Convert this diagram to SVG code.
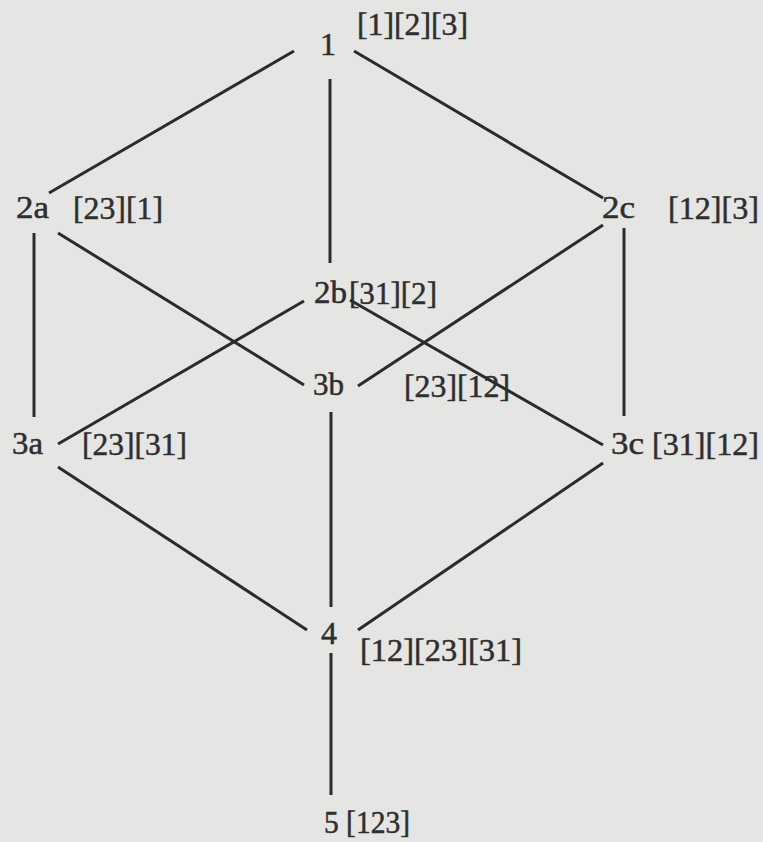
<svg xmlns="http://www.w3.org/2000/svg" width="763" height="842" viewBox="0 0 763 842">
<style>
.bg{fill:#e5e5e3}
.edge{stroke:#2b2b2b;stroke-width:3;stroke-linecap:butt;fill:none}
text{font-family:"Liberation Serif","Times New Roman",serif;fill:#2e2e2e;stroke:#2e2e2e;stroke-width:0.5;font-size:32px}
</style>
<rect class="bg" x="0" y="0" width="763" height="842"/>
<g id="connectors">
<line class="edge" x1="294" y1="51" x2="49" y2="193"/>
<line class="edge" x1="354" y1="51" x2="603" y2="198"/>
<line class="edge" x1="330" y1="79" x2="330" y2="263"/>
<line class="edge" x1="34" y1="233" x2="34" y2="417"/>
<line class="edge" x1="58" y1="233" x2="304" y2="385"/>
<line class="edge" x1="304" y1="301" x2="58" y2="444"/>
<line class="edge" x1="350" y1="300" x2="603" y2="445"/>
<line class="edge" x1="603" y1="225" x2="358" y2="386"/>
<line class="edge" x1="624" y1="228" x2="624" y2="416"/>
<line class="edge" x1="331" y1="412" x2="331" y2="607"/>
<line class="edge" x1="58" y1="467" x2="307" y2="630"/>
<line class="edge" x1="603" y1="463" x2="358" y2="630"/>
<line class="edge" x1="331" y1="653" x2="331" y2="795"/>
</g>
<g id="node-1">
<text x="320" y="55" textLength="16" lengthAdjust="spacingAndGlyphs">1</text>
<text x="357" y="35" textLength="111" lengthAdjust="spacingAndGlyphs">[1][2][3]</text>
</g>
<g id="node-2a">
<text x="16" y="218" textLength="33" lengthAdjust="spacingAndGlyphs">2a</text>
<text x="73" y="219" textLength="90" lengthAdjust="spacingAndGlyphs">[23][1]</text>
</g>
<g id="node-2b">
<text x="314" y="303" textLength="33" lengthAdjust="spacingAndGlyphs">2b</text>
<text x="349" y="304" textLength="88" lengthAdjust="spacingAndGlyphs">[31][2]</text>
</g>
<g id="node-2c">
<text x="602" y="218" textLength="33" lengthAdjust="spacingAndGlyphs">2c</text>
<text x="668" y="219" textLength="91" lengthAdjust="spacingAndGlyphs">[12][3]</text>
</g>
<g id="node-3a">
<text x="12" y="454" textLength="31" lengthAdjust="spacingAndGlyphs">3a</text>
<text x="82" y="455" textLength="105" lengthAdjust="spacingAndGlyphs">[23][31]</text>
</g>
<g id="node-3b">
<text x="313" y="395" textLength="31" lengthAdjust="spacingAndGlyphs">3b</text>
<text x="404" y="397" textLength="106" lengthAdjust="spacingAndGlyphs">[23][12]</text>
</g>
<g id="node-3c">
<text x="611" y="454" textLength="33" lengthAdjust="spacingAndGlyphs">3c</text>
<text x="652" y="455" textLength="107" lengthAdjust="spacingAndGlyphs">[31][12]</text>
</g>
<g id="node-4">
<text x="321" y="644" textLength="16" lengthAdjust="spacingAndGlyphs">4</text>
<text x="360" y="661" textLength="162" lengthAdjust="spacingAndGlyphs">[12][23][31]</text>
</g>
<g id="node-5">
<text x="324" y="833" textLength="86" lengthAdjust="spacingAndGlyphs">5 [123]</text>
</g>
</svg>
